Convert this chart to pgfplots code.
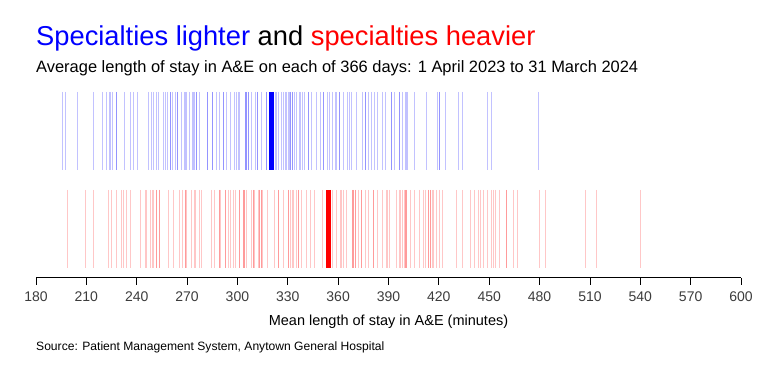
\documentclass[border=0pt]{standalone}
\usepackage{pgfplots}
\pgfplotsset{compat=1.18}
\usepackage{fontspec}
\setmainfont{Liberation Sans}
\definecolor{tickgray}{RGB}{60,60,60}
\begin{document}
\begin{tikzpicture}[x=1pt,y=1pt]
\useasboundingbox (0,0) rectangle (766,372);
\node[anchor=base west,inner sep=0pt,font=\fontsize{27.3}{30}\selectfont] at (36,326.5) {\textcolor{blue}{Specialties lighter} and \textcolor{red}{specialties heavier}};
\node[anchor=base west,inner sep=0pt,font=\fontsize{16.45}{18}\selectfont] at (36,299.5) {Average length of stay in A\&E on each of 366 days: 1 April 2023 to 31 March 2024};
\node[anchor=base,inner sep=0pt,font=\fontsize{14.5}{16}\selectfont] at (388.5,46) {Mean length of stay in A\&E (minutes)};
\node[anchor=base west,inner sep=0pt,font=\fontsize{12.1}{14}\selectfont] at (36,21) {Source: Patient Management System, Anytown General Hospital};
\begin{axis}[
  at={(36pt,94pt)}, anchor=south west,
  scale only axis, width=705pt, height=186pt,
  xmin=180, xmax=600, ymin=-0.5, ymax=1.398,
  axis y line=none, axis x line=bottom,
  x axis line style={-, line width=1pt, draw=black},
  xtick={180,210,...,600}, ytick=\empty,
  tick align=outside, major tick length=7pt,
  xtick style={line width=0.8pt, draw=black},
  xticklabel style={font=\fontsize{14}{16}\selectfont, text=tickgray, yshift=-3pt},
  /pgf/number format/assume math mode=true,
  clip=false,
]
% blue: specialties lighter
\addplot[only marks, mark=|, mark size=39pt, mark options={line width=1pt, draw=blue, draw opacity=0.24}] coordinates {
(195.7,1)(197.5,1)(204.6,1)(214.1,1)(219.5,1)(221.9,1)(223.5,1)(224.4,1)(225.3,1)
(227.8,1)(227.8,1)(232.8,1)(236.2,1)(238.2,1)(240.3,1)(246.9,1)(248.7,1)(250.1,1)
(251.5,1)(252.9,1)(255.8,1)(257.0,1)(258.6,1)(260.0,1)(260.0,1)(261.4,1)(263.0,1)
(264.2,1)(264.2,1)(266.8,1)(268.3,1)(269.1,1)(269.8,1)(271.3,1)(273.4,1)(274.1,1)
(274.7,1)(275.5,1)(275.5,1)(277.5,1)(282.1,1)(282.1,1)(285.3,1)(285.3,1)(287.7,1)
(289.2,1)(291.6,1)(291.6,1)(293.2,1)(295.8,1)(298.1,1)(299.7,1)(300.6,1)(301.4,1)
(304.9,1)(304.9,1)(305.5,1)(305.5,1)(306.7,1)(306.7,1)(308.1,1)(310.6,1)(312.1,1)
(312.1,1)(314.2,1)(317.2,1)(317.2,1)
(322.4,1)(323.4,1)(324.6,1)(326.1,1)(327.3,1)(328.5,1)(329.4,1)(330.3,1)(331.3,1)
(331.7,1)(331.7,1)(332.9,1)(332.9,1)(333.9,1)(335.3,1)(336.7,1)(337.6,1)(338.5,1)
(340.1,1)(342.2,1)(342.2,1)(344.0,1)(347.2,1)(349.4,1)(351.2,1)(351.2,1)(353.8,1)
(355.1,1)(356.5,1)(358.3,1)(359.3,1)(361.1,1)(361.1,1)(363.3,1)(365.7,1)(366.6,1)
(367.8,1)(370.8,1)(374.6,1)(376.4,1)(376.4,1)(378.0,1)(379.8,1)(381.8,1)(383.6,1)
(386.3,1)(388.1,1)(391.9,1)(391.9,1)(393.3,1)(396.7,1)(396.7,1)(398.2,1)(400.2,1)
(400.8,1)(401.4,1)(405.4,1)(412.5,1)(419.1,1)(420.3,1)(420.3,1)(423.8,1)(431.6,1)
(433.8,1)(449.1,1)(451.4,1)(479.2,1)
};
\addplot[only marks, mark=|, mark size=39pt, mark options={line width=5pt, draw=blue}] coordinates {(320.3,1)};
% red: specialties heavier
\addplot[only marks, mark=|, mark size=39pt, mark options={line width=1pt, draw=red, draw opacity=0.22}] coordinates {
(198.5,0)(209.4,0)(214.1,0)(223.1,0)(224.9,0)(227.8,0)(230.8,0)(232.2,0)(233.8,0)
(236.2,0)(242.1,0)(245.1,0)(246.0,0)(248.1,0)(249.3,0)(250.1,0)(251.9,0)(251.9,0)
(253.5,0)(253.5,0)(258.8,0)(261.8,0)(265.4,0)(267.4,0)(268.9,0)(268.9,0)(269.8,0)
(272.8,0)(274.3,0)(275.1,0)(277.3,0)(278.5,0)(284.4,0)(286.2,0)(289.2,0)(289.2,0)
(290.0,0)(292.8,0)(292.8,0)(294.6,0)(295.8,0)(297.4,0)(298.7,0)(301.1,0)(301.1,0)
(303.7,0)(303.7,0)(304.5,0)(304.5,0)(305.5,0)(308.3,0)(309.5,0)(309.5,0)(310.3,0)
(312.7,0)(313.4,0)(313.4,0)(314.2,0)(314.2,0)(315.1,0)(317.8,0)(321.8,0)(324.3,0)
(324.3,0)(327.7,0)(330.7,0)(330.7,0)(331.9,0)(332.6,0)(333.3,0)(335.1,0)(336.5,0)
(336.5,0)(338.1,0)(341.0,0)(343.4,0)(345.8,0)(350.6,0)
(356.8,0)(358.9,0)(361.3,0)(362.1,0)(363.3,0)(364.7,0)(368.4,0)(368.4,0)(369.4,0)
(369.4,0)(370.5,0)(370.5,0)(372.4,0)(373.8,0)(373.8,0)(376.2,0)(378.0,0)(380.8,0)
(380.8,0)(383.2,0)(386.3,0)(388.7,0)(389.7,0)(390.7,0)(394.6,0)(396.4,0)(397.4,0)
(398.5,0)(399.7,0)(400.2,0)(400.2,0)(401.0,0)(401.0,0)(403.0,0)(405.4,0)(408.2,0)
(410.7,0)(411.9,0)(413.9,0)(413.9,0)(415.1,0)(415.1,0)(416.3,0)(417.1,0)(418.7,0)
(420.1,0)(422.3,0)(430.4,0)(434.2,0)(438.7,0)(441.1,0)(443.5,0)(445.1,0)(446.3,0)
(448.9,0)(451.4,0)(452.8,0)(454.0,0)(456.0,0)(460.2,0)(460.2,0)(464.3,0)(466.7,0)
(479.8,0)(483.5,0)(507.2,0)(513.8,0)(540.4,0)
};
\addplot[only marks, mark=|, mark size=39pt, mark options={line width=5pt, draw=red}] coordinates {(354.3,0)};
\end{axis}
\end{tikzpicture}
\end{document}
